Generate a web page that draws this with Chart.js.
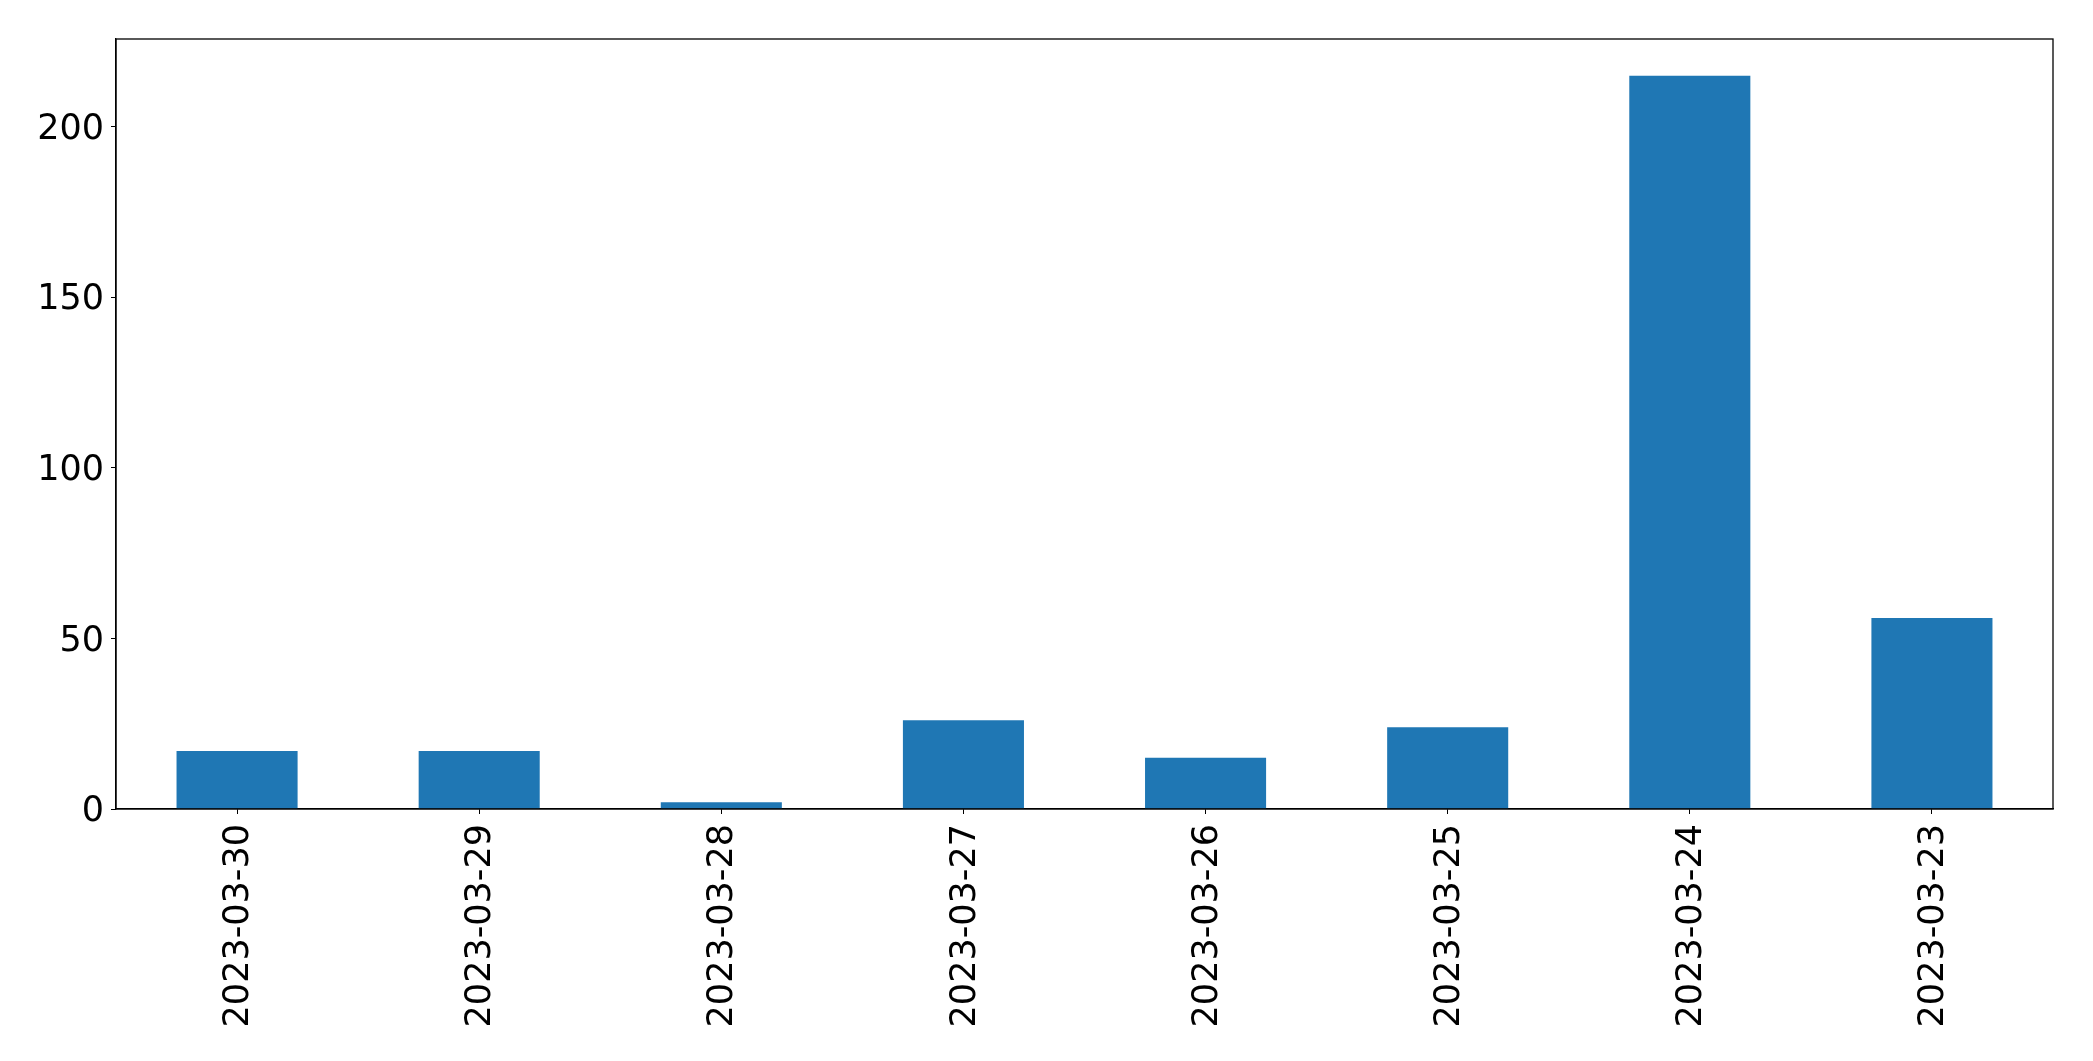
<!DOCTYPE html>
<html>
<head>
<meta charset="utf-8">
<script src="https://cdn.jsdelivr.net/npm/chart.js@4.4.0/dist/chart.umd.min.js"></script>
<style>
  html, body { margin: 0; padding: 0; background: #fff; }
  canvas { display: block; }
</style>
</head>
<body>
<canvas id="barChart" width="2093" height="1061"></canvas>
<script>
const dates = ['2023-03-30', '2023-03-29', '2023-03-28', '2023-03-27', '2023-03-26', '2023-03-25', '2023-03-24', '2023-03-23'];
const counts = [17, 17, 2, 26, 15, 24, 215, 56];
const yTicks = [0, 50, 100, 150, 200];

// box round the plot area, like the matplotlib axes frame
const frame = {
    id: 'frame',
    afterDraw(chart) {
        const a = chart.chartArea;
        const ctx = chart.ctx;
        ctx.save();
        ctx.strokeStyle = '#000';
        ctx.lineWidth = 1.3;
        ctx.strokeRect(a.left, a.top, a.right - a.left, a.bottom - a.top);
        ctx.restore();
    }
};

const font = { family: '"DejaVu Sans", sans-serif', size: 35 };

new Chart(document.getElementById('barChart'), {
    type: 'bar',
    data: {
        labels: dates,
        datasets: [{
            data: counts,
            backgroundColor: '#1f77b4',
            barPercentage: 0.5,
            categoryPercentage: 1
        }]
    },
    options: {
        responsive: false,
        animation: false,
        layout: { padding: { top: 39, right: 40, left: 0, bottom: 0 } },
        plugins: { legend: { display: false }, tooltip: { enabled: false } },
        scales: {
            x: {
                grid: { display: true, drawOnChartArea: false, offset: false, tickLength: 5, tickColor: '#000' },
                border: { color: '#000', width: 1.3 },
                ticks: { color: '#000', font: font, minRotation: 90, maxRotation: 90, padding: 10, labelOffset: 2, autoSkip: false },
                afterFit(scale) { scale.height = 252; }
            },
            y: {
                min: 0,
                max: 225.75,
                grid: { display: true, drawOnChartArea: false, tickLength: 5, tickColor: '#000' },
                border: { color: '#000', width: 1.3 },
                afterBuildTicks(scale) { scale.ticks = yTicks.map(v => ({ value: v })); },
                ticks: { color: '#000', font: font, padding: 7, labelOffset: 3 },
                afterFit(scale) { scale.width = 116; }
            }
        }
    },
    plugins: [frame]
});
</script>
</body>
</html>
